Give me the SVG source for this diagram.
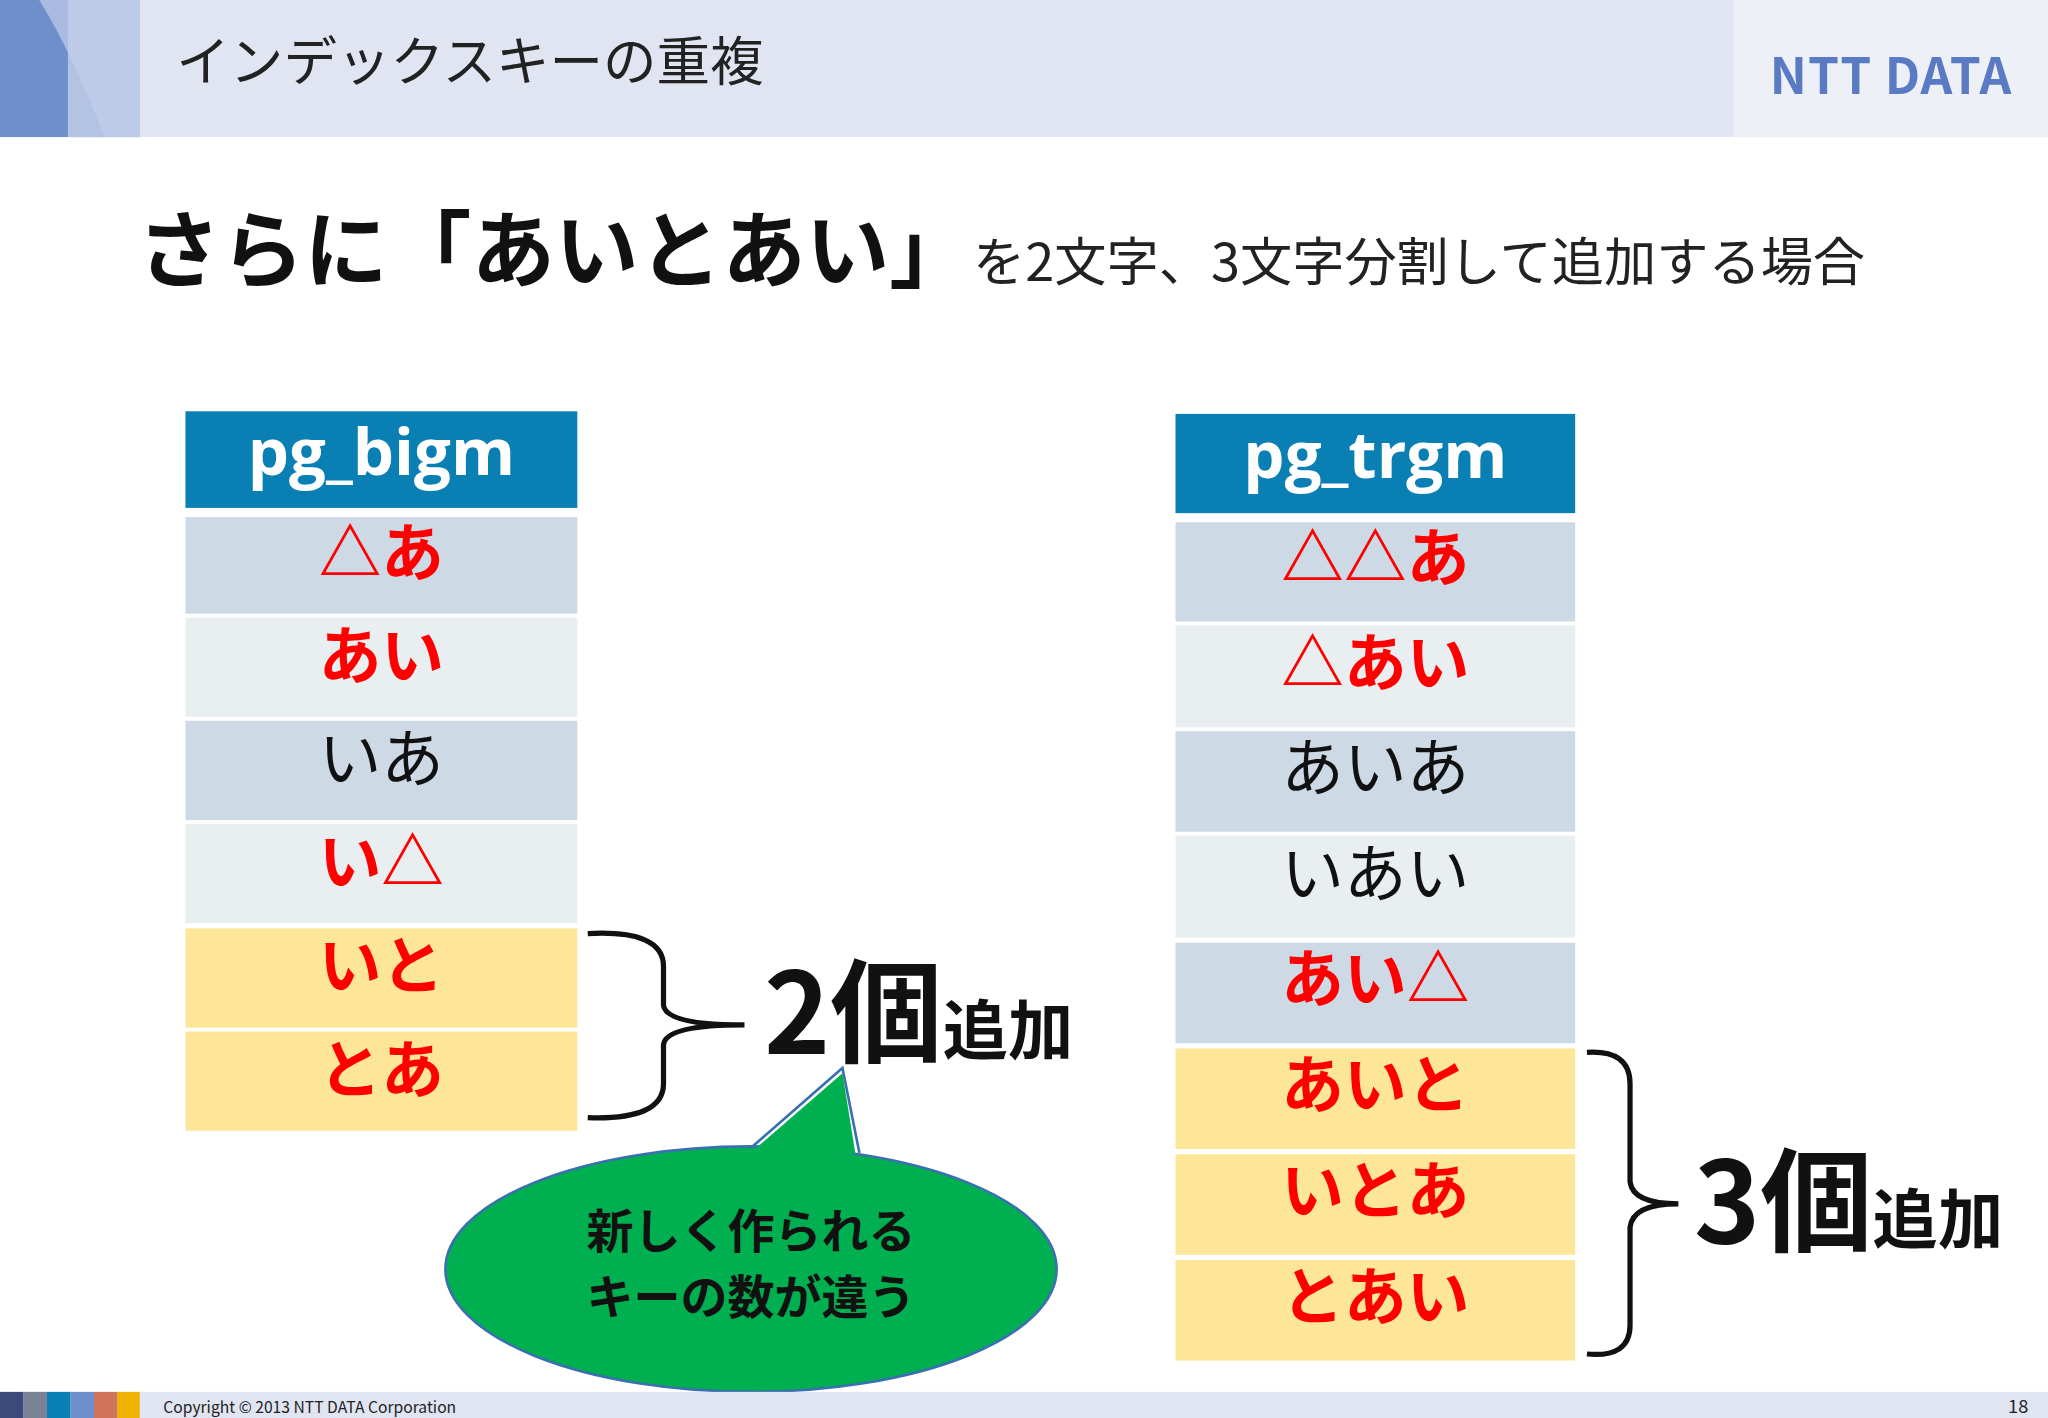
<svg xmlns="http://www.w3.org/2000/svg" width="2048" height="1418" viewBox="0 0 2048 1418">
<style>
text{font-family:"Noto Sans CJK JP","Noto Sans",sans-serif}
.r{fill:#ff0000;font-weight:bold;font-size:48px;text-anchor:middle}
.k{fill:#111;font-size:48px;text-anchor:middle}
.h{fill:#fff;font-weight:bold;font-size:50px;text-anchor:middle;font-family:"Open Sans","Noto Sans",sans-serif}
.a{fill:#cdd9e4}.b{fill:#e9eef1}.y{fill:#fee699}
.br{fill:none;stroke:#111;stroke-width:4}
</style>
<rect width="2048" height="1418" fill="#fff"/>
<g transform="scale(1.30612 1.30571)">
<g id="header">
<rect x="0" y="0" width="1568" height="105" fill="#e1e5f2"/>
<rect x="1327" y="0" width="241" height="105" fill="#eef0f8"/>
<rect x="0" y="0" width="107" height="105" fill="#a9bbe0"/>
<path d="M0,0 H30 Q55,40 80,105 H0Z" fill="#6f8fcc"/>
<rect x="52" y="0" width="55" height="105" fill="#c3cfea" opacity="0.8"/>
<text x="135" y="62" font-size="41" fill="#222">インデックスキーの重複</text>
<text x="1355" y="72" font-size="38" font-weight="bold" fill="#5a7bc4" font-family="Liberation Sans,sans-serif" textLength="185">NTT DATA</text>
</g>
<g id="heading">
<text x="105" y="215" font-size="64" font-weight="bold" fill="#111">さらに「あいとあい」</text>
<text x="745" y="215" font-size="40" fill="#222">を2文字、3文字分割して追加する場合</text>
</g>
<g id="bigm">
<rect x="142" y="315" width="300" height="74" fill="#0a7fb4"/>
<text class="h" x="292" y="364">pg_bigm</text>
<rect class="a" x="142" y="396" width="300" height="74"/><text class="r" x="292" y="440">△あ</text>
<rect class="b" x="142" y="473" width="300" height="76"/><text class="r" x="292" y="519">あい</text>
<rect class="a" x="142" y="552" width="300" height="76"/><text class="k" x="292" y="598">いあ</text>
<rect class="b" x="142" y="631" width="300" height="76"/><text class="r" x="292" y="677">い△</text>
<rect class="y" x="142" y="711" width="300" height="76"/><text class="r" x="292" y="757">いと</text>
<rect class="y" x="142" y="790" width="300" height="76"/><text class="r" x="292" y="836">とあ</text>
</g>
<g id="trgm">
<rect x="900" y="317" width="306" height="76" fill="#0a7fb4"/>
<text class="h" x="1053" y="366">pg_trgm</text>
<rect class="a" x="900" y="400" width="306" height="76"/><text class="r" x="1053" y="444">△△あ</text>
<rect class="b" x="900" y="479" width="306" height="78"/><text class="r" x="1053" y="525">△あい</text>
<rect class="a" x="900" y="560" width="306" height="77"/><text class="k" x="1053" y="605">あいあ</text>
<rect class="b" x="900" y="640" width="306" height="78"/><text class="k" x="1053" y="686">いあい</text>
<rect class="a" x="900" y="722" width="306" height="77"/><text class="r" x="1053" y="767">あい△</text>
<rect class="y" x="900" y="803" width="306" height="77"/><text class="r" x="1053" y="848">あいと</text>
<rect class="y" x="900" y="884" width="306" height="77"/><text class="r" x="1053" y="929">いとあ</text>
<rect class="y" x="900" y="965" width="306" height="77"/><text class="r" x="1053" y="1010">とあい</text>
</g>
<g id="connectors">
<path class="br" d="M450,715 Q508,712 508,740 V770 Q510,785 570,785 Q510,785 508,800 V830 Q508,858 450,856"/>
<path class="br" d="M1215,806 Q1248,804 1248,830 V905 Q1250,922 1285,922 Q1250,922 1248,940 V1015 Q1248,1040 1215,1037"/>
</g>
<g id="label2">
<text x="585" y="807" font-size="86" font-weight="bold" fill="#111">2個<tspan font-size="50">追加</tspan></text>
</g>
<g id="label3">
<text x="1297" y="952" font-size="86" font-weight="bold" fill="#111">3個<tspan font-size="50">追加</tspan></text>
</g>
<g id="callout">
<ellipse cx="575" cy="972" rx="234" ry="94" fill="#00b050" stroke="#3a6fb0" stroke-width="2"/>
<path d="M575,879 L645,818 L658,883" fill="none" stroke="#3a6fb0" stroke-width="2"/>
<path d="M578,880 L645,822 L655,884 Z" fill="#00b050"/>
<text x="575" y="956" font-size="36" font-weight="bold" fill="#111" text-anchor="middle">新しく作られる</text>
<text x="575" y="1006" font-size="36" font-weight="bold" fill="#111" text-anchor="middle">キーの数が違う</text>
</g>
<g id="footer">
<rect x="0" y="1066" width="1568" height="20" fill="#e1e5f2"/>
<rect x="0" y="1066" width="18" height="20" fill="#3b4a7a"/>
<rect x="18" y="1066" width="18" height="20" fill="#7a8296"/>
<rect x="36" y="1066" width="18" height="20" fill="#0a7fb4"/>
<rect x="54" y="1066" width="18" height="20" fill="#6f8fcc"/>
<rect x="72" y="1066" width="18" height="20" fill="#d0735a"/>
<rect x="90" y="1066" width="17" height="20" fill="#f0b400"/>
<text x="125" y="1082" font-size="12" fill="#222" font-family="Liberation Sans,sans-serif">Copyright © 2013 NTT DATA Corporation</text>
<text x="1553" y="1082" font-size="14" fill="#222" text-anchor="end" font-family="Liberation Sans,sans-serif">18</text>
</g>
</g>
</svg>
